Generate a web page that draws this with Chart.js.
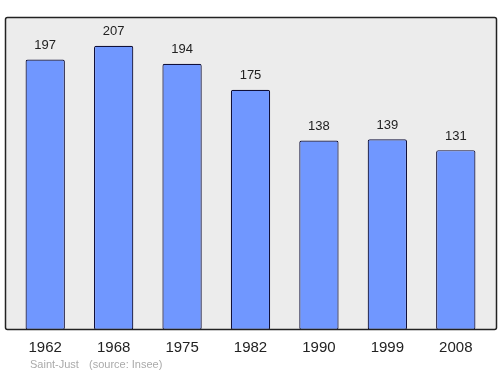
<!DOCTYPE html>
<html>
<head>
<meta charset="utf-8">
<script src="https://cdn.jsdelivr.net/npm/chart.js@4"></script>
<style>
  html, body { margin: 0; padding: 0; background: #fff; }
  #wrap { width: 500px; height: 374px; }
</style>
</head>
<body>
<div id="wrap"><canvas id="popChart" width="500" height="374"></canvas></div>
<script>
const years = ['1962', '1968', '1975', '1982', '1990', '1999', '2008'];
const population = [197, 207, 194, 175, 138, 139, 131];
const yMax = 228;

// Gray frame behind bars, value labels and year labels on top
const framePlugin = {
    id: 'frame',
    beforeDatasetsDraw(chart) {
        const ctx = chart.ctx;
        ctx.save();
        ctx.beginPath();
        ctx.roundRect(5.5, 17.5, 491, 312, 2);
        ctx.fillStyle = '#ececec';
        ctx.fill();
        ctx.restore();
    },
    afterDatasetsDraw(chart) {
        const ctx = chart.ctx;
        const xs = chart.scales.x;
        const ys = chart.scales.y;
        ctx.save();
        ctx.beginPath();
        ctx.roundRect(5.5, 17.5, 491, 312, 2);
        ctx.strokeStyle = '#222';
        ctx.lineWidth = 1.5;
        ctx.stroke();

        ctx.textAlign = 'center';
        ctx.textBaseline = 'middle';
        ctx.fillStyle = '#222';
        ctx.font = '13px "Liberation Sans", Arial, sans-serif';
        population.forEach((v, i) => {
            ctx.fillText(String(v), xs.getPixelForValue(i), ys.getPixelForValue(v) - 14);
        });

        ctx.font = '15px "Liberation Sans", Arial, sans-serif';
        years.forEach((y, i) => {
            ctx.fillText(y, xs.getPixelForValue(i), 347.5);
        });

        ctx.textAlign = 'left';
        ctx.fillStyle = '#aaa';
        ctx.font = '11px "Liberation Sans", Arial, sans-serif';
        ctx.fillText('Saint-Just', 30, 365);
        ctx.fillText('(source: Insee)', 89, 365);
        ctx.restore();
    }
};

new Chart(document.getElementById('popChart'), {
    type: 'bar',
    data: {
        labels: years,
        datasets: [{
            data: population,
            backgroundColor: '#7097ff',
            borderColor: '#10103a',
            borderWidth: 1.2,
            borderRadius: 2,
            borderSkipped: false,
            categoryPercentage: 1,
            barPercentage: 0.575
        }]
    },
    options: {
        responsive: false,
        animation: false,
        layout: { padding: { left: 11, right: 10, top: 17, bottom: 44 } },
        plugins: { legend: { display: false }, tooltip: { enabled: false } },
        scales: {
            x: { display: false },
            y: { display: false, min: 0, max: yMax }
        }
    },
    plugins: [framePlugin]
});
</script>
</body>
</html>
